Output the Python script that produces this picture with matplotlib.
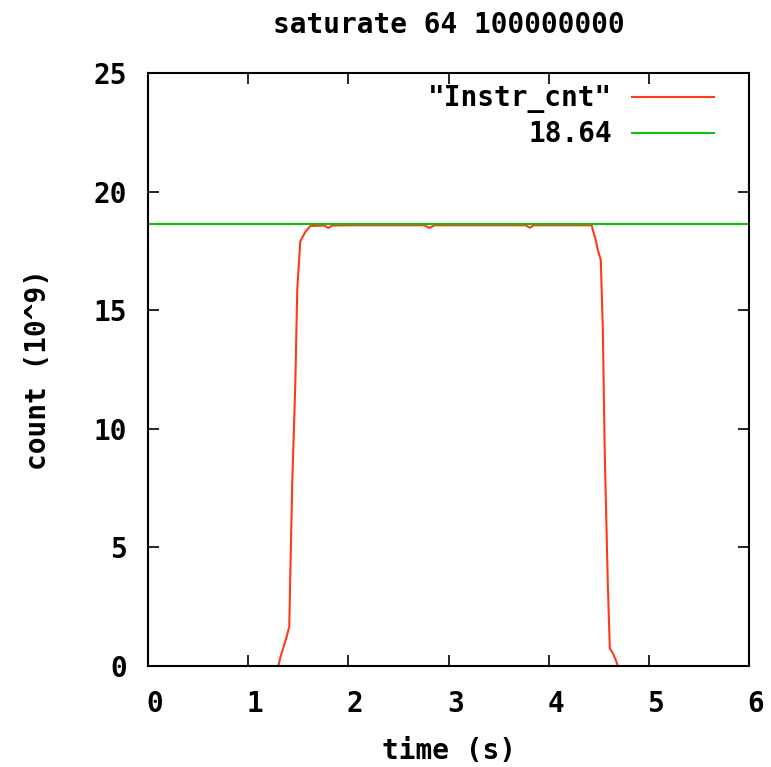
import matplotlib.pyplot as plt
import matplotlib
import matplotlib.transforms as mtransforms

matplotlib.rcParams['font.family'] = 'DejaVu Sans Mono'
matplotlib.rcParams['font.weight'] = 'bold'

# instruction count samples
t = [1.30, 1.32, 1.35, 1.38, 1.41, 1.42, 1.44, 1.47, 1.49, 1.52, 1.57, 1.62,
     1.76, 1.80, 1.84, 2.00, 2.40, 2.76, 2.81, 2.86, 3.20, 3.50, 3.77, 3.81,
     3.85, 4.10, 4.43, 4.44, 4.47, 4.49, 4.52, 4.54, 4.56, 4.59, 4.61, 4.64,
     4.67, 4.69]
cnt = [0.0, 0.34, 0.76, 1.18, 1.65, 3.77, 7.77, 11.85, 15.9, 17.9, 18.3, 18.55,
       18.57, 18.47, 18.57, 18.58, 18.58, 18.58, 18.47, 18.58, 18.58, 18.58,
       18.58, 18.48, 18.58, 18.58, 18.58, 18.38, 17.96, 17.54, 17.12, 14.3,
       8.9, 3.49, 0.75, 0.54, 0.25, 0.0]
level = 18.64

fs = 20
fig = plt.figure(figsize=(7.71, 7.67), dpi=100)
ax = fig.add_axes([0.192, 0.1317, 0.7795, 0.7731])

ax.plot(t, cnt, color='#ff3a1a', lw=1.5, label='"Instr_cnt"')
ax.axhline(level, color='#10c010', lw=1.5, label='18.64')

ax.set_xlim(0, 6)
ax.set_ylim(0, 25)
ax.set_xticks(range(0, 7))
ax.set_yticks([0, 5, 10, 15, 20, 25])
ax.tick_params(direction='in', length=8, width=1.2, top=True, right=True,
               labelsize=fs)
ax.tick_params(axis='x', pad=17)
ax.tick_params(axis='y', pad=15)
# gnuplot puts the x tick labels a bit right of the tick
off = mtransforms.ScaledTranslation(0.07, 0, fig.dpi_scale_trans)
for lab in ax.get_xticklabels():
    lab.set_transform(lab.get_transform() + off)
for s in ax.spines.values():
    s.set_linewidth(1.5)

ax.set_title('saturate 64 100000000', fontsize=fs, fontweight='bold', pad=29)
ax.set_xlabel('time (s)', fontsize=fs, fontweight='bold', labelpad=14)
ax.set_ylabel('count (10^9)', fontsize=fs, fontweight='bold', labelpad=30)

ax.legend(loc='upper right', frameon=False, markerfirst=False, fontsize=fs,
          handlelength=2.95, handletextpad=0.7, borderaxespad=0.0,
          borderpad=0.3, labelspacing=0.25, bbox_to_anchor=(0.955, 0.995))

plt.savefig('out.png', dpi=100)
